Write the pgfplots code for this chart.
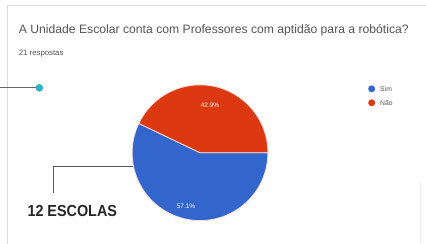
\documentclass[border=0pt]{standalone}
\usepackage{pgfplots}
\pgfplotsset{compat=1.18}
\usepackage{fontspec}
\setmainfont{Liberation Sans}
\definecolor{gblue}{RGB}{51,102,204}
\definecolor{gred}{RGB}{220,57,18}
\definecolor{gtext}{RGB}{85,85,85}
\definecolor{teal}{RGB}{38,181,200}
\begin{document}
\begin{tikzpicture}
\begin{axis}[
  width=426pt, height=242pt, scale only axis,
  xmin=0, xmax=426, ymin=0, ymax=242,
  hide axis, clip=false,
]
% background and card frame
\fill[white] (axis cs:0,0) rectangle (axis cs:426,242);
\draw[black!15, line width=0.8pt] (axis cs:7,-2) -- (axis cs:7,237) -- (axis cs:426,237);
\draw[black!6, line width=0.6pt] (axis cs:421,60) -- (axis cs:421,-2);
% title
\node[anchor=west, text=gtext, font=\fontsize{12.2}{14}\selectfont] at (axis cs:15,212) {A Unidade Escolar conta com Professores com aptidão para a robótica?};
\node[anchor=west, text=gtext, font=\fontsize{7.8}{9}\selectfont] at (axis cs:15,188) {21 respostas};
% pie: Sim 57.1, Não 42.9
\pgfmathsetmacro{\angA}{57.1*3.6}
\fill[gblue, draw=white!85!gred, line width=0.8pt] (axis cs:200,89) -- ++(0:68pt) arc[start angle=0, end angle=-\angA, radius=68pt] -- cycle;
\fill[gred, draw=white!85!gred, line width=0.8pt] (axis cs:200,89) -- ++(0:68pt) arc[start angle=0, end angle=360-\angA, radius=68pt] -- cycle;
\node[text=white, font=\fontsize{6.5}{7}\selectfont] at (axis cs:210,137) {42.9\%};
\node[text=white, font=\fontsize{6.5}{7}\selectfont] at (axis cs:186,35) {57.1\%};
% legend
\addplot[only marks, mark=*, mark size=3.2pt, gblue] coordinates {(372,153)};
\addplot[only marks, mark=*, mark size=3.2pt, gred] coordinates {(372,139)};
\node[anchor=west, text=gtext, font=\fontsize{6.8}{7}\selectfont] at (axis cs:377,153) {Sim};
\node[anchor=west, text=gtext, font=\fontsize{6.8}{7}\selectfont] at (axis cs:377,139) {Não};
% annotations
\addplot[black!60, line width=0.8pt] coordinates {(0,154) (38,154)};
\addplot[only marks, mark=*, mark size=3.5pt, teal] coordinates {(39,154)};
\addplot[black!65, line width=0.8pt] coordinates {(53,49) (53,75) (133,75)};
\node[font=\bfseries\fontsize{16}{18}\selectfont, text=black!85, xscale=0.9] at (axis cs:72,31) {12 ESCOLAS};
\end{axis}
\end{tikzpicture}
\end{document}
